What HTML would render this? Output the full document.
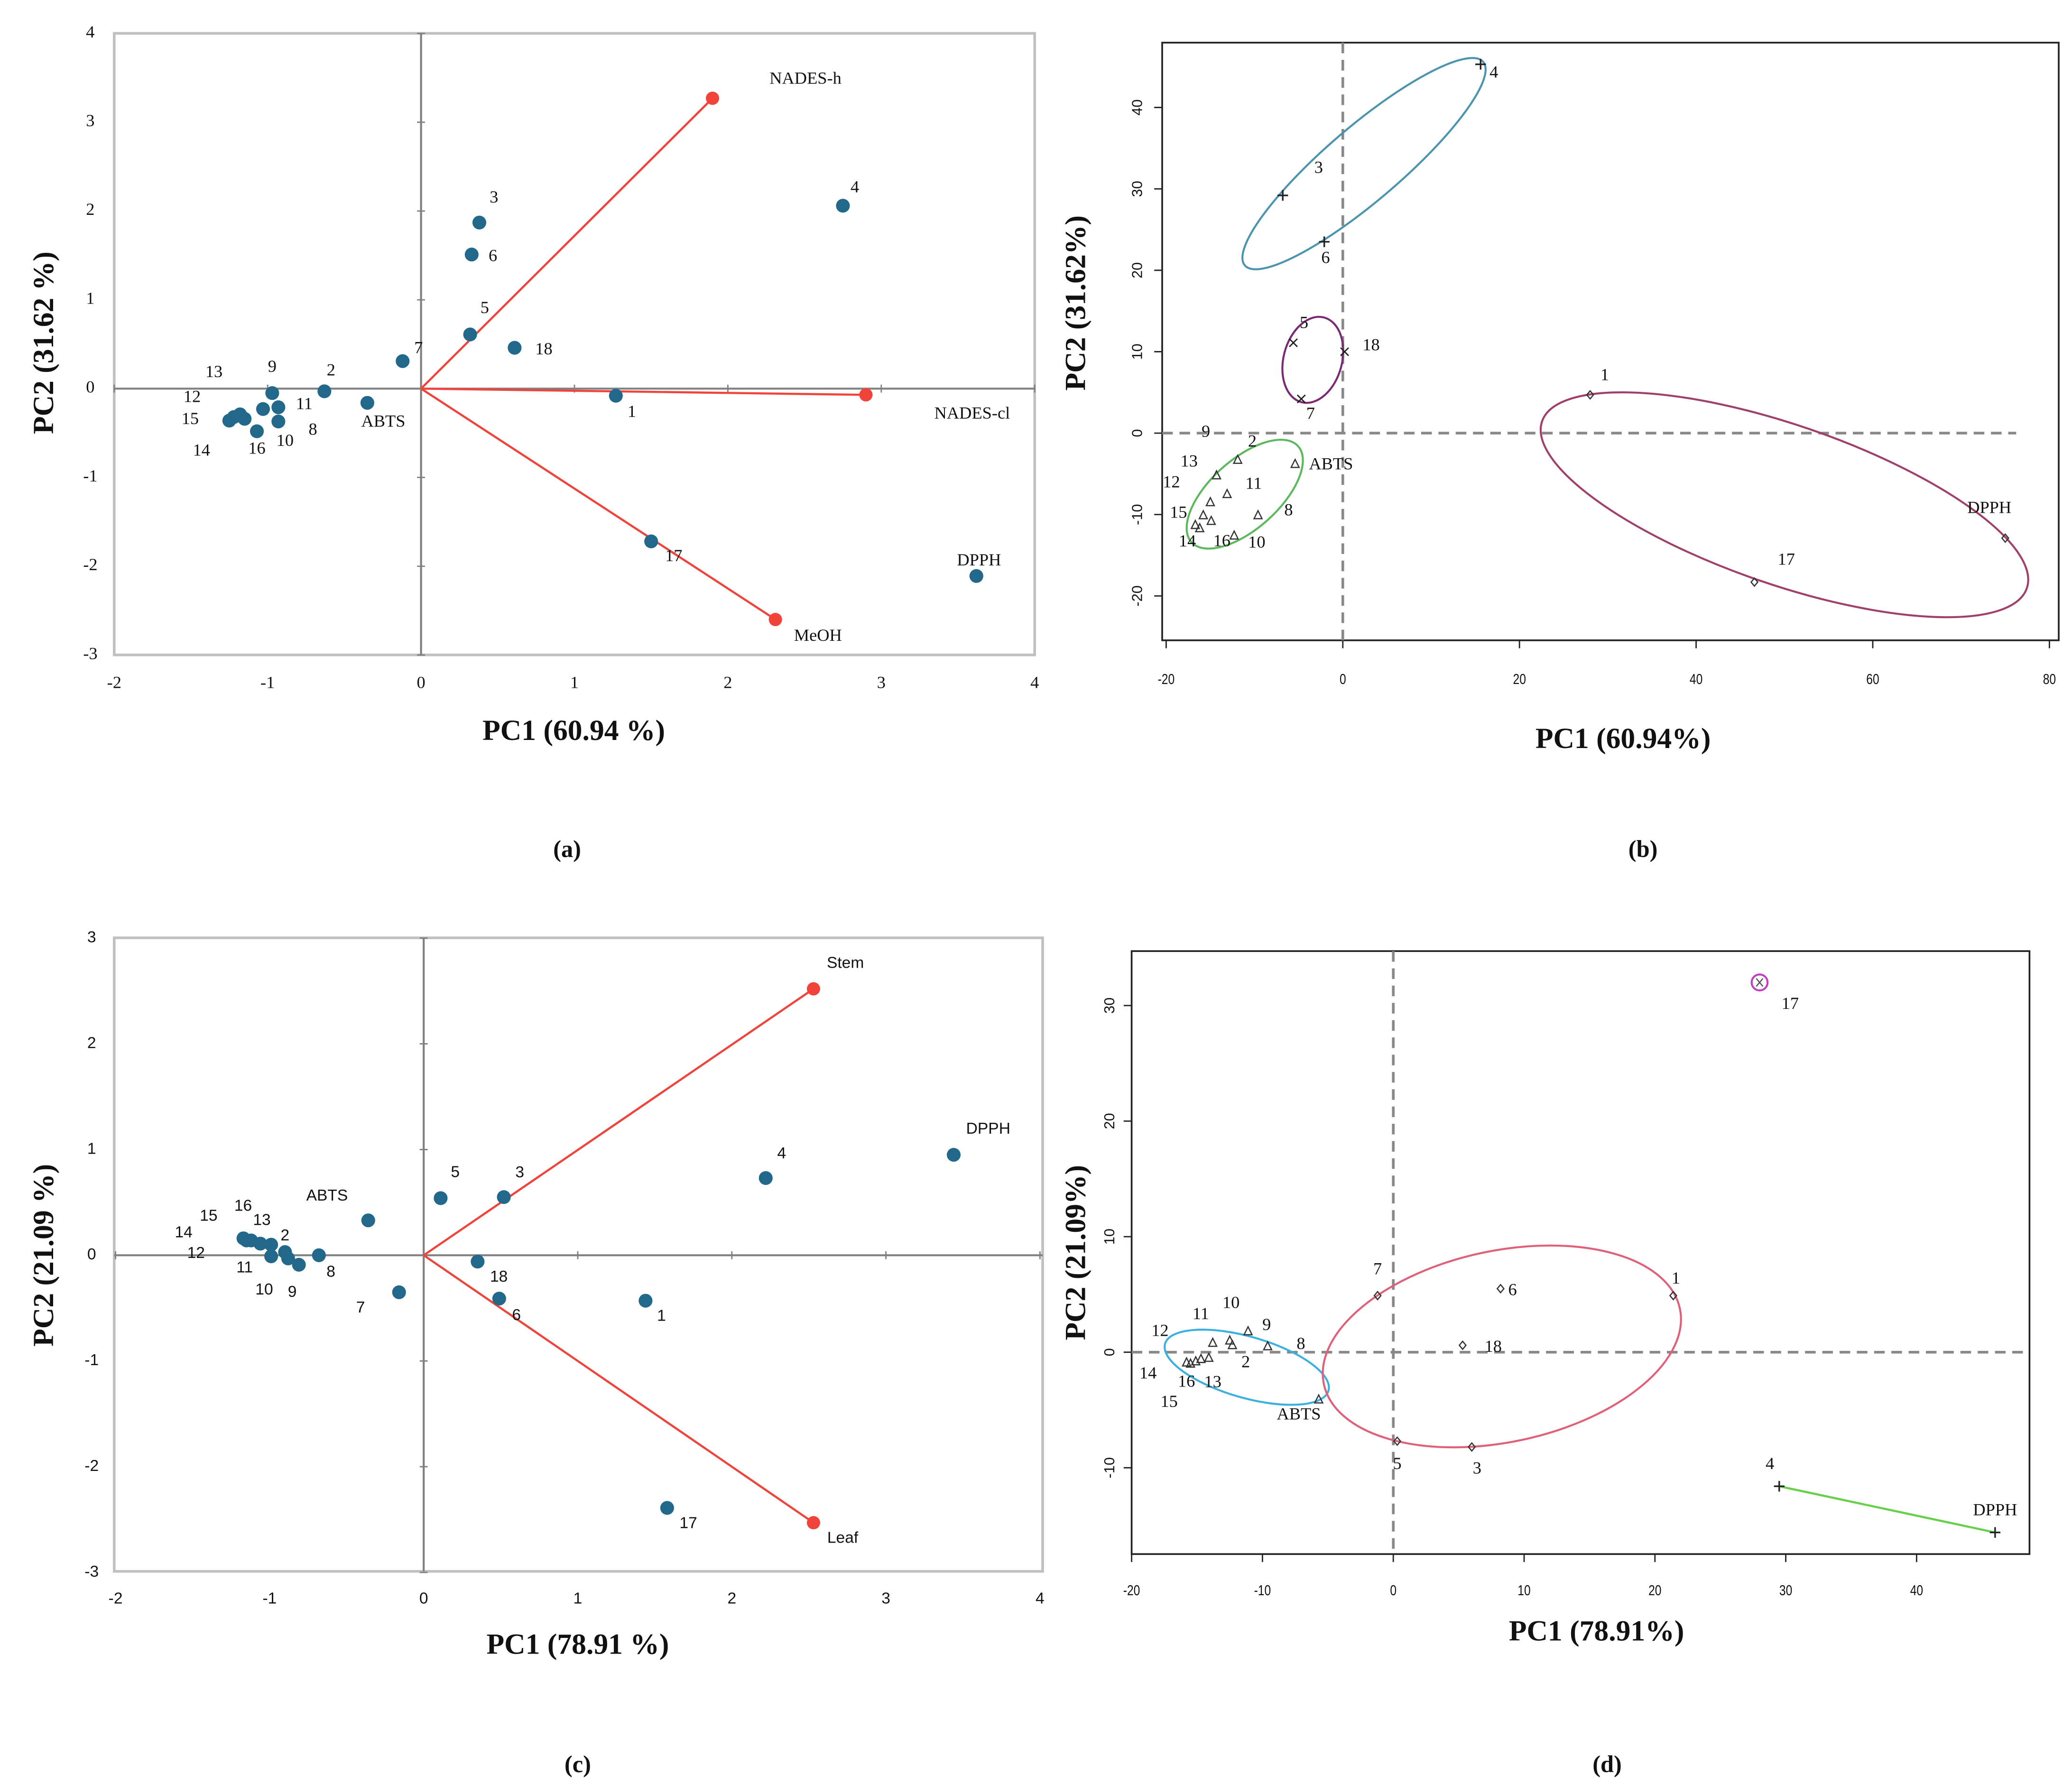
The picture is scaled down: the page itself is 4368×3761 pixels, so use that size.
<!DOCTYPE html>
<html><head><meta charset="utf-8"><style>
html,body{margin:0;padding:0;background:#fff}
svg{display:block}
</style></head><body>
<svg id="fig" xmlns="http://www.w3.org/2000/svg" width="4368" height="3761" viewBox="0 0 1560 1343">
<rect width="1560" height="1343" fill="#fff"/>
</svg>
<script>
// ---------- Panel (a) data ----------
const aNames = ["1","2","3","4","5","6","7","8","9","10","11","12","13","14","15","16","17","18","ABTS","DPPH"];
const aPC1 = [1.27,-0.63,0.38,2.75,0.32,0.33,-0.12,-0.93,-0.97,-0.93,-1.03,-1.25,-1.22,-1.18,-1.15,-1.07,1.50,0.61,-0.35,3.62];
const aPC2 = [-0.08,-0.03,1.87,2.06,0.61,1.51,0.31,-0.37,-0.05,-0.21,-0.23,-0.36,-0.32,-0.29,-0.34,-0.48,-1.72,0.46,-0.16,-2.11];
const aVecNames = ["NADES-h","NADES-cl","MeOH"];
const aVecPC1 = [1.90,2.90,2.31];
const aVecPC2 = [3.27,-0.07,-2.60];
const aXTicks = [-2,-1,0,1,2,3,4];
const aYTicks = [-3,-2,-1,0,1,2,3,4];
// ---------- Panel (b) data ----------
const bNames = ["4","3","6","5","7","18","1","17","DPPH","ABTS","2","9","13","12","11","15","8","14","16","10"];
const bPC1 = [15.6,-6.8,-2.1,-5.6,-4.7,0.2,28,46.6,75,-5.4,-11.9,-14.3,-15.0,-15.8,-13.1,-16.2,-9.6,-16.7,-14.9,-12.3];
const bPC2 = [45.3,29.2,23.5,11.1,4.2,10,4.7,-18.3,-12.9,-3.8,-3.3,-5.2,-8.5,-10.1,-7.5,-11.7,-10.1,-11.3,-10.8,-12.6];
const bGroup = ["p","p","p","x","x","x","d","d","d","t","t","t","t","t","t","t","t","t","t","t"];
const bXTicks = [-20,0,20,40,60,80];
const bYTicks = [-20,-10,0,10,20,30,40];
// ---------- Panel (c) data ----------
const cNames = ["4","DPPH","5","3","ABTS","7","18","6","1","17","14","12","15","16","13","11","2","10","9","8"];
const cPC1 = [2.22,3.44,0.11,0.52,-0.36,-0.16,0.35,0.49,1.44,1.58,-1.17,-1.15,-1.12,-1.06,-0.99,-0.99,-0.90,-0.88,-0.81,-0.68];
const cPC2 = [0.73,0.95,0.54,0.55,0.33,-0.35,-0.06,-0.41,-0.43,-2.39,0.16,0.14,0.14,0.11,0.10,-0.01,0.03,-0.03,-0.09,0.0];
const cVecNames = ["Stem","Leaf"];
const cVecPC1 = [2.53,2.53];
const cVecPC2 = [2.52,-2.53];
const cXTicks = [-2,-1,0,1,2,3,4];
const cYTicks = [-3,-2,-1,0,1,2,3];
// ---------- Panel (d) data ----------
const dNames = ["17","7","6","1","18","5","3","4","DPPH","ABTS","12","11","10","9","8","2","13","16","14","15"];
const dPC1 = [28,-1.2,8.2,21.4,5.3,0.3,6,29.5,46,-5.7,-15.8,-13.8,-12.3,-11.1,-9.6,-12.5,-14.1,-15.1,-15.5,-14.7];
const dPC2 = [32,4.9,5.5,4.9,0.6,-7.7,-8.2,-11.6,-15.6,-4.1,-0.9,0.8,0.6,1.8,0.5,1.0,-0.5,-0.8,-1.0,-0.6];
const dGroup = ["o","d","d","d","d","d","d","p","p","t","t","t","t","t","t","t","t","t","t","t"];
const dXTicks = [-20,-10,0,10,20,30,40];
const dYTicks = [-10,0,10,20,30];

const NS="http://www.w3.org/2000/svg";
const svg=document.getElementById('fig');
function mk(tag,attrs,parent){const e=document.createElementNS(NS,tag);for(const k in attrs)e.setAttribute(k,attrs[k]);(parent||svg).appendChild(e);return e;}
function txt(s,x,y,size,font,parent,extra){const e=mk('text',Object.assign({x:x,y:y,'font-size':size,'font-family':font,'text-anchor':'middle','dominant-baseline':'middle',fill:'#111'},extra||{}),parent);e.textContent=s;return e;}
const SERIF='"Liberation Serif", serif', SANS='"Liberation Sans", sans-serif';

// ===== Panel (a) =====
(function(){
const g=mk('g',{});


const X=v=>317+115.5*v, Y=v=>292.5-66.86*v;
const box=mk('rect',{x:86,y:25,width:693,height:468,fill:'none',stroke:'#c0c0c0','stroke-width':2},g);


const ax1=mk('line',{x1:86,x2:779,y1:Y(0),y2:Y(0),stroke:'#808080','stroke-width':1.5},g);


const ax2=mk('line',{x1:X(0),x2:X(0),y1:25,y2:493,stroke:'#808080','stroke-width':1.5},g);


aXTicks.forEach(t=>{const e=txt(String(t),X(t),515,13,SERIF,g);


const k=mk('line',{x1:X(t),x2:X(t),y1:Y(0)-3,y2:Y(0)+3,stroke:'#808080'},g);

});
aYTicks.forEach(t=>{const e=txt(String(t),68,Y(t),13,SERIF,g);


const k=mk('line',{x1:X(0)-3,x2:X(0)+3,y1:Y(t),y2:Y(t),stroke:'#808080'},g);

});
aVecNames.forEach((n,i)=>{
const l=mk('line',{x1:X(0),y1:Y(0),x2:X(aVecPC1[i]),y2:Y(aVecPC2[i]),stroke:'#f0443a','stroke-width':1.6},g);


const c=mk('circle',{cx:X(aVecPC1[i]),cy:Y(aVecPC2[i]),r:5,fill:'#f0443a'},g);

});
const vOff=[[70,-14],[80,15],[32,13]];
aVecNames.forEach((n,i)=>{const e=txt(n,X(aVecPC1[i])+vOff[i][0],Y(aVecPC2[i])+vOff[i][1],13,SERIF,g);

});
const off=[[12,13],[5,-15],[11,-18],[9,-13],[11,-19],[16,2],[12,-9],[26,7],[0,-19],[5,26],[31,-3],[-28,-17],[-15,-33],[-29,28],[-41,1],[0,14],[17,12],[22,2],[12,15],[2,-11]];
aNames.forEach((n,i)=>{
const c=mk('circle',{cx:X(aPC1[i]),cy:Y(aPC2[i]),r:5.2,fill:'#22688a'},g);


const e=txt(n,X(aPC1[i])+off[i][0],Y(aPC2[i])+off[i][1],13,SERIF,g);

});
const xt=txt('PC1 (60.94 %)',432,552,22,SERIF,g,{'font-weight':'bold'});


const yt=txt('PC2 (31.62 %)',35,258,22,SERIF,g,{'font-weight':'bold',transform:'rotate(-90 35 258)'});


const cap=txt('(a)',427,641,18,SERIF,g,{'font-weight':'bold'});


})();

// marker helper
function marker(type,x,y,g){
let e;
if(type==='p'){e=mk('path',{d:`M${x-4},${y}H${x+4}M${x},${y-4}V${y+4}`,stroke:'#222','stroke-width':1.2,fill:'none'},g);}
else if(type==='x'){e=mk('path',{d:`M${x-3},${y-3}L${x+3},${y+3}M${x-3},${y+3}L${x+3},${y-3}`,stroke:'#222','stroke-width':1,fill:'none'},g);}
else if(type==='d'){e=mk('path',{d:`M${x},${y-3}L${x+2.5},${y}L${x},${y+3}L${x-2.5},${y}Z`,stroke:'#333','stroke-width':0.9,fill:'none'},g);}
else if(type==='t'){e=mk('path',{d:`M${x},${y-3.5}L${x+3},${y+2.5}L${x-3},${y+2.5}Z`,stroke:'#333','stroke-width':0.9,fill:'none'},g);}
else {e=mk('g',{},g);const c=mk('circle',{cx:x,cy:y,r:6,fill:'none',stroke:'#c040c0','stroke-width':1.5},e);const p=mk('path',{d:`M${x-2.5},${y-3}L${x+2.5},${y+3}M${x-2.5},${y+3}L${x+2.5},${y-3}`,stroke:'#555','stroke-width':0.9},e);}


return e;}

// ===== Panel (b) =====
(function(){
const g=mk('g',{});


const X=v=>1011+6.65*v, Y=v=>326-6.13*v;
const box=mk('rect',{x:875,y:32,width:675,height:450,fill:'none',stroke:'#222','stroke-width':1.3},g);


const h=mk('line',{x1:875,x2:1518,y1:Y(0),y2:Y(0),stroke:'#888','stroke-width':2,'stroke-dasharray':'8 5'},g);


const v=mk('line',{x1:X(0),x2:X(0),y1:32,y2:482,stroke:'#888','stroke-width':2,'stroke-dasharray':'8 5'},g);


bXTicks.forEach(t=>{const k=mk('line',{x1:X(t),x2:X(t),y1:482,y2:488,stroke:'#222'},g);


const e=txt(String(t),X(t)/0.8,512,11,SANS,g,{transform:`scale(0.8 1)`});

});
bYTicks.forEach(t=>{const k=mk('line',{x1:869,x2:875,y1:Y(t),y2:Y(t),stroke:'#222'},g);


const e=txt(String(t),857,Y(t),11,SANS,g,{transform:`rotate(-90 857 ${Y(t)})`});

});
const ells=[[2.4,33.1,118,28,-40.5,'#4a94ad'],[-3.4,9,22,33,15,'#7a2a72'],[50,-8.8,193,60,19,'#a0406a'],[-11.1,-7.5,54,26,-42,'#5cb85c']];
ells.forEach(el=>{const cx=X(el[0]),cy=Y(el[1]);const e=mk('ellipse',{cx:cx,cy:cy,rx:el[2],ry:el[3],transform:`rotate(${el[4]} ${cx} ${cy})`,fill:'none',stroke:el[5],'stroke-width':1.5},g);

});
const off=[[10,7],[27,-20],[1,13],[8,-14],[7,12],[20,-4],[11,-14],[24,-16],[-12,-22],[27,1],[11,-13],[-8,-32],[-16,-30],[-24,-24],[20,-7],[-16,-11],[23,-3],[-6,13],[8,16],[17,6]];
bNames.forEach((n,i)=>{marker(bGroup[i],X(bPC1[i]),Y(bPC2[i]),g);
const e=txt(n,X(bPC1[i])+off[i][0],Y(bPC2[i])+off[i][1],13,SERIF,g);

});
const xt=txt('PC1 (60.94%)',1222,558,22,SERIF,g,{'font-weight':'bold'});


const yt=txt('PC2 (31.62%)',812,228,22,SERIF,g,{'font-weight':'bold',transform:'rotate(-90 812 228)'});


const cap=txt('(b)',1237,641,18,SERIF,g,{'font-weight':'bold'});


})();

// ===== Panel (c) =====
(function(){
const g=mk('g',{});


const X=v=>319+116*v, Y=v=>945-79.6*v;
const box=mk('rect',{x:86,y:706,width:699,height:477,fill:'none',stroke:'#c0c0c0','stroke-width':2},g);


const ax1=mk('line',{x1:86,x2:785,y1:Y(0),y2:Y(0),stroke:'#808080','stroke-width':1.5},g);


const ax2=mk('line',{x1:X(0),x2:X(0),y1:706,y2:1183,stroke:'#808080','stroke-width':1.5},g);


cXTicks.forEach(t=>{const e=txt(String(t),X(t),1204,12,SANS,g);


const k=mk('line',{x1:X(t),x2:X(t),y1:Y(0)-3,y2:Y(0)+3,stroke:'#808080'},g);

});
cYTicks.forEach(t=>{const e=txt(String(t),69,Y(t),12,SANS,g);


const k=mk('line',{x1:X(0)-3,x2:X(0)+3,y1:Y(t),y2:Y(t),stroke:'#808080'},g);

});
const vOff=[[24,-19],[22,12]];
cVecNames.forEach((n,i)=>{
const l=mk('line',{x1:X(0),y1:Y(0),x2:X(cVecPC1[i]),y2:Y(cVecPC2[i]),stroke:'#f0443a','stroke-width':1.6},g);


const c=mk('circle',{cx:X(cVecPC1[i]),cy:Y(cVecPC2[i]),r:5,fill:'#f0443a'},g);


const e=txt(n,X(cVecPC1[i])+vOff[i][0],Y(cVecPC2[i])+vOff[i][1],12,SANS,g);

});
const off=[[12,-18],[26,-19],[11,-19],[12,-18],[-31,-18],[-29,12],[16,12],[13,13],[12,12],[16,12],[-45,-4],[-38,10],[-32,-18],[-13,-28],[-7,-18],[-20,9],[0,-12],[-18,24],[-5,21],[9,13]];
cNames.forEach((n,i)=>{
const c=mk('circle',{cx:X(cPC1[i]),cy:Y(cPC2[i]),r:5.2,fill:'#22688a'},g);


const e=txt(n,X(cPC1[i])+off[i][0],Y(cPC2[i])+off[i][1],12,SANS,g);

});
const xt=txt('PC1 (78.91 %)',435,1240,22,SERIF,g,{'font-weight':'bold'});


const yt=txt('PC2 (21.09 %)',35,945,22,SERIF,g,{'font-weight':'bold',transform:'rotate(-90 35 945)'});


const cap=txt('(c)',435,1330,18,SERIF,g,{'font-weight':'bold'});


})();

// ===== Panel (d) =====
(function(){
const g=mk('g',{});


const X=v=>1049+9.85*v, Y=v=>1018-8.7*v;
const box=mk('rect',{x:852,y:716,width:676,height:454,fill:'none',stroke:'#222','stroke-width':1.3},g);


const h=mk('line',{x1:852,x2:1528,y1:Y(0),y2:Y(0),stroke:'#888','stroke-width':2,'stroke-dasharray':'8 5'},g);


const v=mk('line',{x1:X(0),x2:X(0),y1:716,y2:1170,stroke:'#888','stroke-width':2,'stroke-dasharray':'8 5'},g);


dXTicks.forEach(t=>{const k=mk('line',{x1:X(t),x2:X(t),y1:1170,y2:1176,stroke:'#222'},g);


const e=txt(String(t),X(t)/0.8,1198,11,SANS,g,{transform:'scale(0.8 1)'});

});
dYTicks.forEach(t=>{const k=mk('line',{x1:846,x2:852,y1:Y(t),y2:Y(t),stroke:'#222'},g);


const e=txt(String(t),836,Y(t),11,SANS,g,{transform:`rotate(-90 836 ${Y(t)})`});

});
const ells=[[-11.2,-1.3,64,23,16,'#3ab0e0'],[8.3,0.5,137,72,-12,'#e0607a']];
ells.forEach(el=>{const cx=X(el[0]),cy=Y(el[1]);const e=mk('ellipse',{cx:cx,cy:cy,rx:el[2],ry:el[3],transform:`rotate(${el[4]} ${cx} ${cy})`,fill:'none',stroke:el[5],'stroke-width':1.5},g);

});
const gl=mk('line',{x1:X(dPC1[7]),y1:Y(dPC2[7]),x2:X(dPC1[8]),y2:Y(dPC2[8]),stroke:'#66d04a','stroke-width':1.6},g);


const off=[[23,17],[0,-19],[9,2],[2,-12],[23,2],[0,18],[4,17],[-7,-16],[0,-16],[-15,12],[-20,-23],[-9,-21],[-1,-31],[14,-4],[25,-1],[12,17],[3,19],[-7,16],[-32,8],[-24,33]];
dNames.forEach((n,i)=>{marker(dGroup[i],X(dPC1[i]),Y(dPC2[i]),g);
const e=txt(n,X(dPC1[i])+off[i][0],Y(dPC2[i])+off[i][1],13,SERIF,g);

});
const xt=txt('PC1 (78.91%)',1202,1230,22,SERIF,g,{'font-weight':'bold'});


const yt=txt('PC2 (21.09%)',812,943,22,SERIF,g,{'font-weight':'bold',transform:'rotate(-90 812 943)'});


const cap=txt('(d)',1210,1330,18,SERIF,g,{'font-weight':'bold'});


})();
</script>
</body></html>
